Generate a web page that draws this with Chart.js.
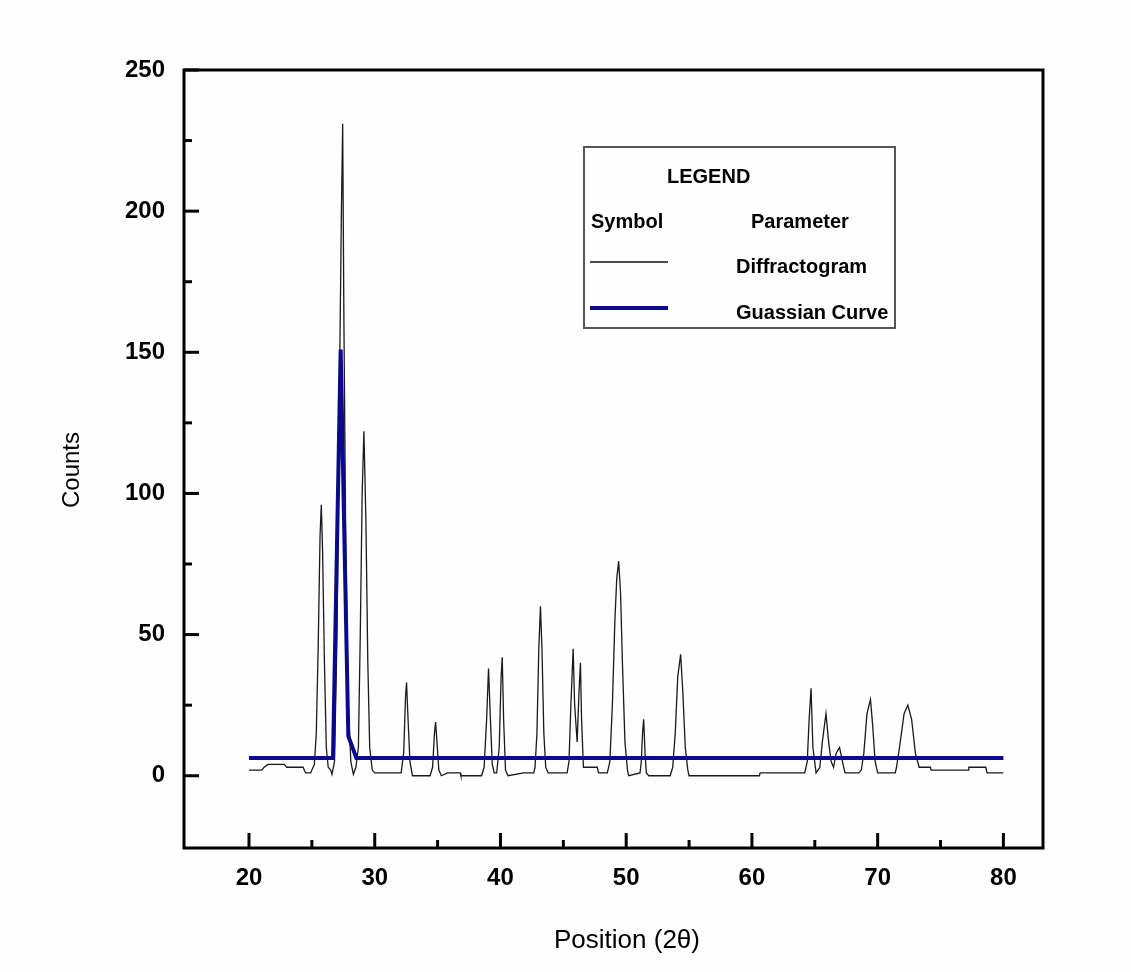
<!DOCTYPE html>
<html>
<head>
<meta charset="utf-8">
<script src="https://cdn.jsdelivr.net/npm/chart.js@4"></script>
<style>
  html, body { margin: 0; padding: 0; background: #fefefe; }
  #wrap { width: 1131px; height: 972px; }
</style>
</head>
<body>
<div id="wrap"><canvas id="xrd" width="1131" height="972"></canvas></div>
<script>
/* ── Data ── */
const diffX = [
  20.0, 21.0, 21.2, 21.5, 22.8, 23.0, 24.3, 24.5, 24.9, 25.0,
  25.2, 25.35, 25.5, 25.65, 25.75, 25.85, 26.0, 26.15, 26.3, 26.5,
  26.6, 26.8, 27.0, 27.2, 27.35, 27.45, 27.55, 27.7, 27.9, 28.1,
  28.3, 28.5, 28.7, 28.85, 29.0, 29.14, 29.3, 29.45, 29.6, 29.8,
  30.0, 31.8, 32.1, 32.3, 32.45, 32.53, 32.65, 32.8, 33.0, 34.4,
  34.6, 34.75, 34.84, 34.95, 35.1, 35.3, 35.8, 36.8, 36.85, 38.5,
  38.7, 38.9, 39.05, 39.2, 39.35, 39.5, 39.7, 39.9, 40.05, 40.14,
  40.25, 40.4, 40.6, 41.85, 42.65, 42.75, 42.9, 43.05, 43.18, 43.3,
  43.45, 43.6, 43.8, 45.3, 45.45, 45.6, 45.78, 45.9, 46.1, 46.25,
  46.36, 46.45, 46.6, 47.7, 47.8, 48.5, 48.7, 48.9, 49.1, 49.25,
  49.4, 49.55, 49.7, 49.9, 50.1, 50.2, 51.1, 51.2, 51.3, 51.39,
  51.5, 51.6, 51.8, 53.5, 53.7, 53.9, 54.1, 54.33, 54.5, 54.7,
  54.9, 55.0, 60.6, 60.65, 64.2, 64.4, 64.55, 64.7, 64.85, 65.1,
  65.4, 65.6, 65.89, 66.1, 66.3, 66.49, 66.7, 66.97, 67.2, 67.4,
  68.5, 68.7, 68.9, 69.15, 69.43, 69.6, 69.8, 70.0, 71.4, 71.5,
  71.8, 72.1, 72.4, 72.7, 73.0, 73.3, 74.2, 74.25, 77.2, 77.25,
  78.6, 78.7, 80.0
];
const diffCounts = [
  2, 2, 3, 4, 4, 3, 3, 1, 1, 2,
  4, 15, 45, 85, 96, 80, 40, 10, 3, 2,
  0.5, 5, 50, 140, 200, 231, 160, 80, 25, 5,
  0.5, 3, 10, 50, 100, 122, 90, 40, 10, 2,
  1, 1, 1, 8, 28, 33, 20, 5, 0, 0,
  3, 15, 19, 12, 2, 0, 1, 1, 0, 0,
  3, 20, 38, 20, 4, 1, 1, 10, 35, 42,
  20, 2, 0, 1, 1, 3, 15, 45, 60, 45,
  15, 3, 1, 1, 5, 25, 45, 25, 12, 30,
  40, 20, 3, 3, 1, 1, 5, 25, 55, 70,
  76, 65, 40, 12, 2, 0, 1, 5, 15, 20,
  8, 1, 0, 0, 3, 15, 35, 43, 30, 10,
  2, 0, 0, 1, 1, 5, 20, 31, 10, 1,
  3, 12, 22, 12, 5, 3, 8, 10, 5, 1,
  1, 2, 8, 22, 27, 18, 5, 1, 1, 3,
  12, 22, 25, 20, 8, 3, 3, 2, 2, 3,
  3, 1, 1
];

const gaussX = [20, 26.68, 27.29, 27.9, 28.54, 80];
const gaussCounts = [6.3, 6.3, 151, 14, 6.3, 6.3];

const xTickVals = [20, 30, 40, 50, 60, 70, 80];
const xMinorVals = [25, 35, 45, 55, 65, 75];
const yTickVals = [0, 50, 100, 150, 200, 250];
const yMinorVals = [25, 75, 125, 175, 225];

const legendRows = [
  { label: 'Diffractogram', color: '#111111', width: 1.3 },
  { label: 'Guassian Curve', color: '#0a0a8a', width: 4 },
];

const toPoints = (xs, ys) => xs.map((x, i) => ({ x, y: ys[i] }));

/* ── Frame, inward ticks, axis titles and legend box ── */
const framePlugin = {
  id: 'frame',
  beforeDraw(chart) {
    const ctx = chart.ctx;
    ctx.save();
    ctx.fillStyle = '#fefefe';
    ctx.fillRect(0, 0, chart.width, chart.height);
    ctx.restore();
  },
  afterDraw(chart) {
    const { ctx, chartArea: a, scales } = chart;
    const xs = scales.x, ys = scales.y;
    ctx.save();
    ctx.strokeStyle = '#000';
    ctx.lineWidth = 3;
    ctx.strokeRect(a.left, a.top, a.right - a.left, a.bottom - a.top);

    const tick = (x1, y1, x2, y2) => {
      ctx.beginPath(); ctx.moveTo(x1, y1); ctx.lineTo(x2, y2); ctx.stroke();
    };
    xTickVals.forEach(v => { const p = xs.getPixelForValue(v); tick(p, a.bottom, p, a.bottom - 15); });
    xMinorVals.forEach(v => { const p = xs.getPixelForValue(v); tick(p, a.bottom, p, a.bottom - 8); });
    yTickVals.forEach(v => { const p = ys.getPixelForValue(v); tick(a.left, p, a.left + 15, p); });
    yMinorVals.forEach(v => { const p = ys.getPixelForValue(v); tick(a.left, p, a.left + 8, p); });

    // axis titles
    ctx.fillStyle = '#000';
    ctx.textAlign = 'center';
    ctx.textBaseline = 'middle';
    ctx.font = "26px 'Liberation Sans', Arial, sans-serif";
    ctx.fillText('Position (2\u03B8)', 627, 941);
    ctx.save();
    ctx.translate(72, 470);
    ctx.rotate(-Math.PI / 2);
    ctx.font = "24px 'Liberation Sans', Arial, sans-serif";
    ctx.fillText('Counts', 0, 0);
    ctx.restore();

    // legend box
    ctx.strokeStyle = '#555';
    ctx.lineWidth = 2;
    ctx.strokeRect(584, 147, 311, 181);
    ctx.font = "bold 20px 'Liberation Sans', Arial, sans-serif";
    ctx.textBaseline = 'alphabetic';
    ctx.textAlign = 'left';
    ctx.fillText('LEGEND', 667, 183);
    ctx.fillText('Symbol', 591, 228);
    ctx.fillText('Parameter', 751, 228);
    legendRows.forEach((r, i) => {
      const y = 262 + i * 46;
      ctx.strokeStyle = r.color;
      ctx.lineWidth = r.width;
      tick(590, y, 668, y);
      ctx.fillStyle = '#000';
      ctx.fillText(r.label, 736, y + 11);
    });
    ctx.restore();
  }
};

const tickFont = { family: "'Liberation Sans', Arial, sans-serif", size: 24, weight: 'bold' };

new Chart(document.getElementById('xrd').getContext('2d'), {
  type: 'line',
  data: {
    datasets: [
      {
        label: 'Guassian Curve',
        data: toPoints(gaussX, gaussCounts),
        borderColor: '#0a0a8a',
        borderWidth: 4,
        pointRadius: 0,
        tension: 0,
        order: 0,
      },
      {
        label: 'Diffractogram',
        data: toPoints(diffX, diffCounts),
        borderColor: '#1a1a1a',
        borderWidth: 1.3,
        pointRadius: 0,
        tension: 0,
        order: 1,
      }
    ]
  },
  options: {
    responsive: false,
    animation: false,
    events: [],
    layout: { padding: { left: 0, top: 70, right: 88, bottom: 0 } },
    plugins: { legend: { display: false }, tooltip: { enabled: false } },
    scales: {
      x: {
        type: 'linear', min: 14.83, max: 83.15,
        grid: { display: false, drawTicks: false },
        border: { display: false },
        afterFit: s => { s.height = 124; },
        afterBuildTicks: s => { s.ticks = xTickVals.map(v => ({ value: v })); },
        ticks: { font: tickFont, color: '#000', padding: 16, maxRotation: 0, autoSkip: false },
      },
      y: {
        type: 'linear', min: -25.6, max: 250,
        grid: { display: false, drawTicks: false },
        border: { display: false },
        afterFit: s => { s.width = 184; },
        afterBuildTicks: s => { s.ticks = yTickVals.map(v => ({ value: v })); },
        ticks: { font: tickFont, color: '#000', padding: 19, autoSkip: false },
      }
    }
  },
  plugins: [framePlugin]
});
</script>
</body>
</html>
